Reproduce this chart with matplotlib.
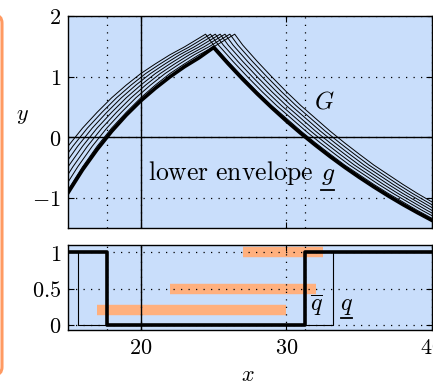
# lower envelope of shifted cost curves and the switching signal q

import matplotlib
matplotlib.use('Agg')
import matplotlib.pyplot as plt
from matplotlib.patches import FancyBboxPatch
import numpy as np

plt.rcParams['mathtext.fontset'] = 'cm'
plt.rcParams['font.family'] = ['DejaVu Serif']

# thin curves G: one base curve, drawn at several shifts
base_x = [13, 14, 15, 16, 17, 18, 19, 20, 21, 22, 23, 24.45,
          25, 26, 27, 28, 29, 30, 31, 32, 33, 34, 35, 36, 37, 38, 39, 40]
base_y = [-0.87, -0.49, -0.15, 0.15, 0.41, 0.65, 0.86, 1.05, 1.21, 1.36, 1.49, 1.70,
          1.52, 1.25, 0.995, 0.75, 0.52, 0.31, 0.10, -0.095, -0.28, -0.46, -0.62,
          -0.78, -0.93, -1.07, -1.21, -1.34]
shifts = [0, 1 / 3, 2 / 3, 1.0, 4 / 3, 5 / 3, 2.0]

# lower envelope g
env_x = [15, 16, 17, 18, 19, 20, 21, 22, 23, 24, 25,
         26, 27, 28, 29, 30, 31, 32, 33, 34, 35, 36, 37, 38, 39, 40]
env_y = [-0.92, -0.54, -0.205, 0.096, 0.363, 0.60, 0.807, 0.995, 1.163, 1.31, 1.48,
         1.211, 0.955, 0.713, 0.484, 0.266, 0.060, -0.135, -0.321, -0.497, -0.663,
         -0.821, -0.971, -1.113, -1.247, -1.375]

# switching signals (value 1 outside the switch points, 0 between)
qbar_switch = [17.67, 31.3]
qlow_switch = [15.7, 33.2]

# orange intervals in the lower panel
bar_start = [17, 22, 27]
bar_end = [30, 32, 32.5]
bar_level = [0.2, 0.5, 1.0]

xticks = [20, 30, 40]
yticks_top = [-1, 0, 1, 2]
yticks_bot = [0, 0.5, 1]
xlim = (15, 40)

bg = '#c9defb'
orange = '#ffb07e'
fs = 16

fig = plt.figure(figsize=(4.33, 3.85), dpi=100)
ax1 = fig.add_axes([68 / 433, 157 / 385, 364 / 433, 212 / 385])
ax2 = fig.add_axes([68 / 433, 55 / 385, 364 / 433, 85 / 385])

for ax in (ax1, ax2):
    ax.set_facecolor(bg)
    ax.set_xlim(xlim)
    ax.set_xticks(xticks)
    ax.tick_params(direction='in', top=True, right=True, length=4, width=0.8,
                   labelsize=fs, pad=5)
    ax.grid(True, color='k', linestyle=(0, (1, 5)), linewidth=0.9)
    ax.set_axisbelow(False)
    for s in ax.spines.values():
        s.set_linewidth(1.0)
    ax.axvline(20, color='k', lw=1.0, zorder=2)
    for xs in qbar_switch:
        ax.axvline(xs, color='k', linestyle=(0, (1, 5)), lw=0.9, zorder=2)

# top panel
ax1.set_ylim(-1.5, 2)
ax1.set_yticks(yticks_top, labels=[r'$-1$', r'$0$', r'$1$', r'$2$'])
ax1.set_xticklabels([])
ax1.axhline(0, color='k', lw=1.0, zorder=2)
for s in shifts:
    ax1.plot(np.array(base_x) + s, base_y, color='k', lw=0.7, zorder=3)
ax1.plot(env_x, env_y, color='k', lw=2.6, zorder=4)
ax1.text(32.6, 0.58, r'$G$', fontsize=17.5, ha='center', va='center')
ax1.text(20.5, -0.70, r'$\mathrm{lower\ envelope}$', fontsize=18.5, ha='left',
         va='baseline')
ax1.text(32.85, -0.70, r'$g$', fontsize=18.5, ha='center', va='baseline')
ax1.plot([32.4, 33.3], [-0.88, -0.88], color='k', lw=1.3)

# bottom panel
ax2.set_ylim(-0.07, 1.1)
ax2.set_yticks(yticks_bot, labels=[r'$0$', r'$0.5$', r'$1$'])
ax2.set_xticklabels([r'$20$', r'$30$', r'$40$'])
ax2.hlines(bar_level, bar_start, bar_end, color=orange, lw=7.5, zorder=1.5)

qx = [xlim[0], qbar_switch[0], qbar_switch[0], qbar_switch[1], qbar_switch[1], xlim[1]]
ax2.plot(qx, [1, 1, 0, 0, 1, 1], color='k', lw=2.6, zorder=4)
lx = [xlim[0], qlow_switch[0], qlow_switch[0], qlow_switch[1], qlow_switch[1], xlim[1]]
ax2.plot(lx, [1, 1, 0, 0, 1, 1], color='k', lw=0.8, zorder=3)

ax2.text(32.1, 0.27, r'$\overline{q}$', fontsize=17.5, ha='center', va='center')
ax2.text(34.14, 0.27, r'$q$', fontsize=17.5, ha='center', va='center')
ax2.plot([33.77, 34.52], [0.09, 0.09], color='k', lw=1.3, clip_on=False)

fig.text(22 / 433, 1 - 115 / 385, r'$y$', fontsize=fs, ha='center', va='center')
fig.text(248 / 433, 1 - 375 / 385, r'$x$', fontsize=fs, ha='center', va='center')

# orange frame edge on the left of the picture
frame = FancyBboxPatch((-30, 10), 32, 360, boxstyle='round,pad=0,rounding_size=8',
                       transform=None, facecolor='none', edgecolor='#ff9a62', lw=2.2)
fig.add_artist(frame)

fig.savefig('out.png', dpi=100)
